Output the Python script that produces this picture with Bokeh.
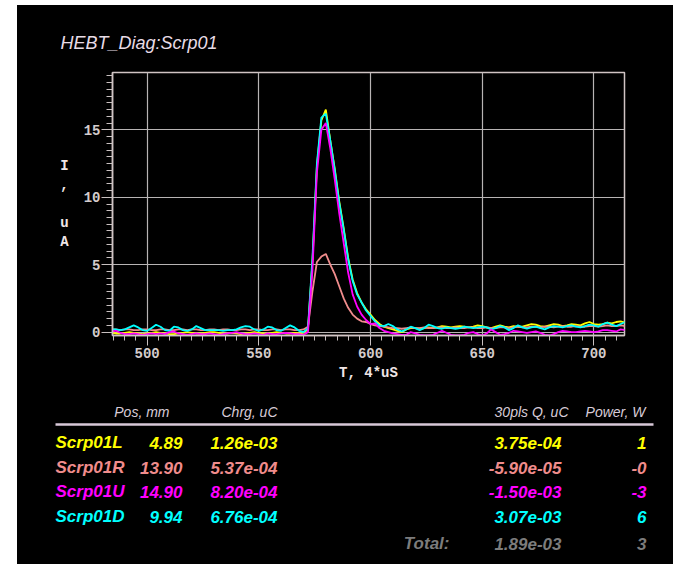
from bokeh.plotting import figure
from bokeh.models import Range1d, SingleIntervalTicker, Plot
from bokeh.layouts import column
from bokeh.embed import file_html
from bokeh.resources import INLINE
from bokeh.core.properties import value
import numpy as np

# ---------------- data ----------------
t = np.arange(484, 716, 2)  # T, 4*uS sample times

scrp_L = [-0.05, -0.1, -0.1, -0.05, 0.0, -0.05, -0.1, -0.15, -0.1, -0.05,
          0.0, -0.05, -0.1, -0.15, -0.15, -0.1, -0.05, 0.0, -0.05, -0.1,
          -0.1, -0.05, 0.0, 0.0, -0.05, -0.1, -0.1, -0.05, -0.1, -0.15,
          -0.1, -0.05, 0.0, -0.05, -0.1, -0.1, -0.05, 0.0, -0.05, -0.1,
          -0.1, -0.05, -0.1, -0.05,
          0.2, 5.2, 12.3, 15.7, 16.5, 14.2, 12.1, 9.7, 7.7, 5.5, 3.9, 2.9, 2.2, 1.7, 1.3, 0.9, 0.6,
          0.4, 0.3, 0.2, 0.1, 0.0, 0.2, 0.3, 0.3, 0.25, 0.3,
          0.35, 0.3, 0.35, 0.45, 0.4, 0.35, 0.4, 0.45, 0.4, 0.35,
          0.4, 0.5, 0.45, 0.35, 0.3, 0.4, 0.5, 0.4, 0.35, 0.45,
          0.4, 0.4, 0.5, 0.6, 0.55, 0.45, 0.4, 0.5, 0.6, 0.55,
          0.45, 0.5, 0.6, 0.55, 0.5, 0.65, 0.75, 0.6, 0.55, 0.6,
          0.7, 0.65, 0.75, 0.8, 0.7]

scrp_R = [0.2, 0.2, 0.15, 0.2, 0.2, 0.15, 0.15, 0.2, 0.2, 0.15,
          0.15, 0.2, 0.2, 0.15, 0.15, 0.2, 0.2, 0.15, 0.2, 0.2,
          0.15, 0.15, 0.2, 0.2, 0.15, 0.2, 0.2, 0.15, 0.15, 0.2,
          0.2, 0.15, 0.2, 0.2, 0.15, 0.15, 0.2, 0.2, 0.15, 0.2,
          0.2, 0.15, 0.15, 0.2,
          0.4, 3.0, 5.2, 5.6, 5.8, 5.0, 4.3, 3.4, 2.5, 1.8, 1.3, 1.0, 0.8, 0.75, 0.6, 0.5, 0.45,
          0.4, 0.35, 0.3, 0.3, 0.25, 0.3, 0.35, 0.3, 0.3, 0.35,
          0.3, 0.3, 0.35, 0.35, 0.3, 0.3, 0.35, 0.3, 0.3, 0.35,
          0.35, 0.3, 0.3, 0.35, 0.3, 0.3, 0.35, 0.35, 0.3, 0.35,
          0.4, 0.35, 0.35, 0.4, 0.4, 0.35, 0.4, 0.4, 0.35, 0.4,
          0.45, 0.4, 0.4, 0.45, 0.4, 0.4, 0.45, 0.45, 0.4, 0.45,
          0.5, 0.45, 0.45, 0.5, 0.45]

scrp_U = [0.05, 0.1, -0.05, -0.15, -0.15, -0.1, -0.15, -0.2, -0.15, -0.1,
          -0.15, -0.1, -0.15, 0.0, 0.05, -0.1, -0.15, -0.2, -0.15, -0.1,
          -0.15, -0.15, -0.1, -0.15, -0.2, -0.15, -0.1, -0.05, 0.0, -0.1,
          -0.15, -0.15, -0.1, -0.15, -0.2, -0.1, -0.15, -0.15, -0.1, -0.05,
          -0.1, -0.15, -0.15, -0.2,
          0.0, 4.6, 11.8, 15.0, 15.5, 13.6, 11.3, 8.8, 6.6, 4.4, 2.8, 1.9, 1.3, 0.9, 0.6, 0.65, 0.3,
          0.1, 0.0, -0.1, -0.15, -0.2, -0.2, 0.0, -0.1, -0.2, -0.25,
          -0.25, -0.2, -0.05, 0.1, -0.05, -0.2, -0.25, -0.25, -0.2, -0.05,
          0.0, -0.15, -0.25, -0.1, 0.2, 0.0, -0.2, -0.15, -0.05, 0.1,
          0.05, 0.0, -0.05, 0.0, 0.05, -0.05, -0.2, -0.25, -0.15, 0.0,
          0.1, 0.05, 0.0, 0.0, 0.05, 0.1, 0.05, 0.0, 0.05, 0.15,
          0.15, 0.1, 0.05, 0.2, 0.15]

scrp_D = [0.2, 0.2, 0.15, 0.2, 0.35, 0.5, 0.35, 0.15, 0.1, 0.3,
          0.55, 0.4, 0.15, 0.1, 0.4, 0.35, 0.15, 0.1, 0.2, 0.45,
          0.3, 0.15, 0.15, 0.15, 0.15, 0.1, 0.15, 0.15, 0.2, 0.35,
          0.45, 0.4, 0.2, 0.1, 0.2, 0.4, 0.35, 0.15, 0.1, 0.3,
          0.5, 0.35, 0.1, 0.0,
          0.3, 5.5, 12.5, 15.9, 16.2, 14.2, 12.0, 9.6, 7.6, 5.4, 3.8, 2.8, 2.2, 1.6, 1.2, 0.8, 0.5,
          0.45, 0.6, 0.45, 0.2, 0.05, 0.2, 0.4, 0.3, 0.15, 0.3,
          0.55, 0.45, 0.3, 0.25, 0.35, 0.3, 0.25, 0.3, 0.4, 0.35,
          0.3, 0.35, 0.4, 0.35, 0.2, 0.3, 0.45, 0.35, 0.15, 0.3,
          0.5, 0.35, 0.25, 0.35, 0.4, 0.3, 0.2, 0.35, 0.45, 0.4,
          0.35, 0.45, 0.5, 0.4, 0.35, 0.45, 0.55, 0.5, 0.4, 0.6,
          0.7, 0.55, 0.45, 0.6, 0.75]

title_text = "HEBT_Diag:Scrp01"
x_label = "T, 4*uS"
y_label = "I\n,\n \nu\nA"
names = ["Scrp01L", "Scrp01R", "Scrp01U", "Scrp01D"]
pos_mm = ["4.89", "13.90", "14.90", "9.94"]
chrg_uC = ["1.26e-03", "5.37e-04", "8.20e-04", "6.76e-04"]
q30_uC = ["3.75e-04", "-5.90e-05", "-1.50e-03", "3.07e-03"]
power_W = ["1", "-0", "-3", "6"]
headers = ["Pos, mm", "Chrg, uC", "30pls Q, uC", "Power, W"]
total_label = "Total:"
total_q = "1.89e-03"
total_power = "3"
colors = ["#ffff00", "#f08c8c", "#ff00ff", "#00ffff"]

# ---------------- layout constants ----------------
W = 656
H_TOP, H_MAIN, H_TAB = 62, 323, 174
X0, X1 = 484.5, 713.7
Y0, Y1 = -0.25, 19.25
FL, FR, FT, FB = 95, 49, 5, 55
MONO = "Liberation Mono"
SANS = "Liberation Sans"
BG = "black"
HAS_FA = "frame_align" in Plot.properties()
HAS_STYLES = "styles" in Plot.properties()

def blacken(obj):
    if HAS_STYLES:
        obj.styles = {"background-color": BG}

def panel(h):
    f = figure(width=W, height=h, output_backend="svg", toolbar_location=None,
               x_range=Range1d(0, W), y_range=Range1d(h, 0),
               x_axis_type=None, y_axis_type=None, min_border=0,
               background_fill_color=BG, border_fill_color=BG)
    f.outline_line_color = None
    if HAS_FA:
        f.frame_align = False
    blacken(f)
    return f

# ---------------- title strip ----------------
top = panel(H_TOP)
top.text(x=[43], y=[37], text=[title_text], text_align="left", text_baseline="middle",
         text_font=value(SANS), text_font_size="18px", text_font_style="italic",
         text_color="#e8dce6")

# ---------------- main plot ----------------
p = figure(width=W, height=H_MAIN, output_backend="svg", toolbar_location=None,
           x_range=Range1d(X0, X1), y_range=Range1d(Y0, Y1),
           min_border_left=FL, min_border_right=FR, min_border_top=FT, min_border_bottom=FB,
           background_fill_color=BG, border_fill_color=BG)
if HAS_FA:
    p.frame_align = False
blacken(p)
p.outline_line_color = "#d0c4c4"
p.outline_line_width = 1.5

for ax in (p.xaxis[0], p.yaxis[0]):
    ax.major_label_text_font = MONO
    ax.major_label_text_font_size = "14px"
    ax.major_label_text_font_style = "bold"
    ax.axis_line_color = "#d0c4c4"
    ax.axis_line_width = 1.5
    ax.major_tick_line_color = "#c8c0c0"
    ax.minor_tick_line_color = "#c8c0c0"
    ax.major_label_text_color = "#d4cccc"
    ax.major_tick_in = 0
    ax.minor_tick_in = 0
p.xaxis.major_tick_out = 10
p.xaxis.minor_tick_out = 5
p.xaxis.major_label_standoff = 2
p.yaxis.major_tick_out = 11
p.yaxis.minor_tick_out = 6
p.yaxis.major_label_standoff = 1

p.xaxis.ticker = SingleIntervalTicker(interval=50, num_minor_ticks=10)
p.yaxis.ticker = SingleIntervalTicker(interval=5, num_minor_ticks=10)
p.xaxis.axis_label = x_label
p.xaxis.axis_label_text_font = MONO
p.xaxis.axis_label_text_font_size = "14px"
p.xaxis.axis_label_text_font_style = "bold"
p.xaxis.axis_label_text_color = "#f0e6e6"
p.xaxis.axis_label_standoff = 4
p.yaxis.axis_label = y_label
p.yaxis.axis_label_orientation = "horizontal"
p.yaxis.axis_label_text_font = MONO
p.yaxis.axis_label_text_font_size = "14px"
p.yaxis.axis_label_text_font_style = "bold"
p.yaxis.axis_label_text_color = "#f0e6e6"
p.yaxis.axis_label_standoff = 12

p.grid.grid_line_color = "#b8b4b4"
p.grid.grid_line_width = 1.2
p.xgrid.ticker = SingleIntervalTicker(interval=50)
p.ygrid.ticker = SingleIntervalTicker(interval=5)

for s, c in zip([scrp_L, scrp_R, scrp_D, scrp_U], [colors[0], colors[1], colors[3], colors[2]]):
    p.line(t, s, line_color=c, line_width=1.8)

# ---------------- table ----------------
tab = panel(H_TAB)
tab.text(x=[152, 260, 551, 628], y=[21] * 4, text=headers, text_align="right",
         text_baseline="middle", text_font=value(SANS), text_font_size="14px",
         text_font_style="italic", text_color="#d8ccd8")
tab.segment(x0=[38], y0=[34], x1=[636], y1=[34], line_color="#d8c8d8", line_width=2.5)

row_y = [52, 77, 101, 126]
cell = dict(text_baseline="middle", text_font=value(SANS), text_font_size="17px",
            text_font_style="bold italic", text_color=colors)
tab.text(x=[38] * 4, y=row_y, text=names, text_align="left", **cell)
tab.text(x=[165] * 4, y=row_y, text=pos_mm, text_align="right", **cell)
tab.text(x=[260] * 4, y=row_y, text=chrg_uC, text_align="right", **cell)
tab.text(x=[544] * 4, y=row_y, text=q30_uC, text_align="right", **cell)
tab.text(x=[629] * 4, y=row_y, text=power_W, text_align="right", **cell)

tab.text(x=[432, 544, 629], y=[153] * 3, text=[total_label, total_q, total_power],
         text_align="right", text_baseline="middle", text_font=value(SANS),
         text_font_size="17px", text_font_style="bold italic", text_color="#7c7c7c")

layout = column(top, p, tab, spacing=0)
layout.margin = (5, -8, -8, 17)
blacken(layout)

open("out.html", "w").write(file_html(layout, INLINE))
